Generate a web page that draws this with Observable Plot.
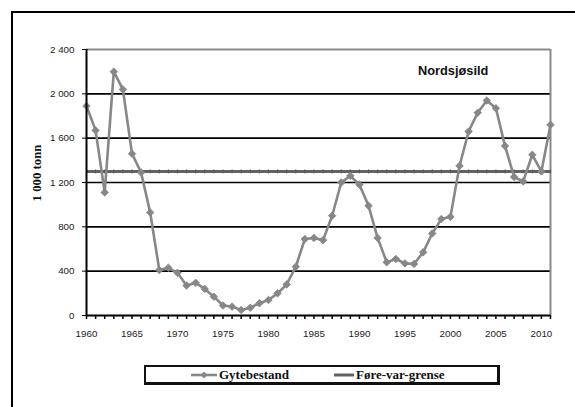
<!DOCTYPE html>
<html><head><meta charset="utf-8">
<script src="https://cdn.jsdelivr.net/npm/d3@7"></script>
<script src="https://cdn.jsdelivr.net/npm/@observablehq/plot@0.6"></script>
<style>
body{margin:0;background:#fff;}
#wrap{position:relative;width:575px;height:407px;overflow:hidden;background:#fff;}
#wrap svg.plot{position:absolute;left:0;top:0;}
#frame{position:absolute;left:11px;top:11px;right:-10px;bottom:-10px;border-left:2px solid #000;border-top:2px solid #000;pointer-events:none;}
#title{position:absolute;left:418px;top:63px;font:bold 12.8px "Liberation Sans",Arial,sans-serif;color:#111;white-space:nowrap;}
#ylabel{position:absolute;left:37px;top:173px;transform:translate(-50%,-50%) rotate(-90deg);font:bold 12.8px "Liberation Serif","Times New Roman",serif;color:#111;white-space:nowrap;}
#legend{position:absolute;left:144px;top:365px;width:351px;height:15px;border:2px solid #111;border-right-width:3px;border-bottom-width:3px;background:#fff;}
.item{position:absolute;top:0;height:15px;display:flex;align-items:center;font:bold 13px "Liberation Serif","Times New Roman",serif;color:#111;white-space:nowrap;}
.item svg{margin-right:2px;}
</style></head><body><div id="wrap"></div>
<script>
const years = d3.range(1960, 2012);
const spawningStock = [1890,1670,1110,2200,2040,1460,1290,930,410,430,
  385,270,295,240,170,90,80,50,70,110,
  140,200,280,440,690,700,680,900,1200,1260,
  1180,990,700,480,510,470,465,570,740,870,
  890,1350,1660,1830,1940,1870,1530,1250,1210,1450,
  1300,1720];
const limitValue = [1300];
const yTicks = [0, 400, 800, 1200, 1600, 2000, 2400];
const xLabelTicks = [1960, 1965, 1970, 1975, 1980, 1985, 1990, 1995, 2000, 2005, 2010];
const seriesName = "Gytebestand";
const limitName = "Føre-var-grense";
const titleText = "Nordsjøsild";
const yLabelText = "1 000 tonn";

const seriesColor = "#878787";
const limitColor = "#636363";
const data = years.map((y, i) => ({year: y, value: spawningStock[i]}));
const yMax = yTicks[yTicks.length - 1];
const fmt = d => String(d).replace(/\B(?=(\d{3})+$)/g, " ");
const vtick = {draw(ctx, size){ const h = Math.sqrt(size) / 2; ctx.moveTo(0, -h); ctx.lineTo(0, h); }};

const chart = Plot.plot({
  width: 575, height: 340,
  marginLeft: 86, marginRight: 25, marginTop: 49, marginBottom: 25,
  style: {fontFamily: "'Liberation Sans', Arial, sans-serif", fontSize: "9.8px", color: "#222", background: "transparent", overflow: "visible"},
  x: {domain: [years[0], years[years.length - 1]]},
  y: {domain: [0, yMax]},
  marks: [
    Plot.ruleY(yTicks.filter(d => d > 0 && d < yMax), {stroke: "#000", strokeWidth: 1.6}),
    Plot.ruleY([yMax], {stroke: "#8a8a8a", strokeWidth: 2}),
    Plot.ruleX([years[years.length - 1]], {stroke: "#8a8a8a", strokeWidth: 2}),
    Plot.ruleY(limitValue, {stroke: limitColor, strokeWidth: 3}),
    Plot.dot(years, {x: d => d, y: () => limitValue[0], symbol: vtick, r: 2.2, stroke: "#555", strokeWidth: 1}),
    Plot.line(data, {x: "year", y: "value", stroke: seriesColor, strokeWidth: 2.6}),
    Plot.dot(data, {x: "year", y: "value", symbol: "diamond2", r: 3.4, fill: seriesColor, stroke: seriesColor, strokeWidth: 0.8}),
    Plot.ruleX([years[0]], {stroke: "#000", strokeWidth: 2}),
    Plot.ruleY([0], {stroke: "#000", strokeWidth: 2}),
    Plot.axisY({ticks: yTicks, tickSize: 4, tickPadding: 8, tickFormat: fmt, label: null, stroke: "#000"}),
    Plot.axisX({ticks: years, tickSize: 4, tickFormat: () => "", label: null, stroke: "#000", strokeWidth: 1.5}),
    Plot.axisX({ticks: xLabelTicks, tickSize: 0, tickPadding: 15, tickFormat: d => String(d), label: null})
  ]
});
const wrap = document.getElementById("wrap");
wrap.appendChild(chart);

const t = document.createElement("div"); t.id = "title"; t.textContent = titleText; wrap.appendChild(t);
const yl = document.createElement("div"); yl.id = "ylabel"; yl.textContent = yLabelText; wrap.appendChild(yl);

const legend = document.createElement("div"); legend.id = "legend";
legend.innerHTML = `
<div class="item" style="left:45px"><svg width="26" height="10"><line x1="0" y1="5" x2="26" y2="5" stroke="${seriesColor}" stroke-width="2.6"/><path d="M13,1.6L16.4,5L13,8.4L9.6,5Z" fill="${seriesColor}"/></svg><span>${seriesName}</span></div>
<div class="item" style="left:188px"><svg width="20" height="10"><line x1="0" y1="5" x2="20" y2="5" stroke="${limitColor}" stroke-width="3"/></svg><span>${limitName}</span></div>`;
wrap.appendChild(legend);

const fr = document.createElement("div"); fr.id = "frame"; wrap.appendChild(fr);
</script></body></html>
